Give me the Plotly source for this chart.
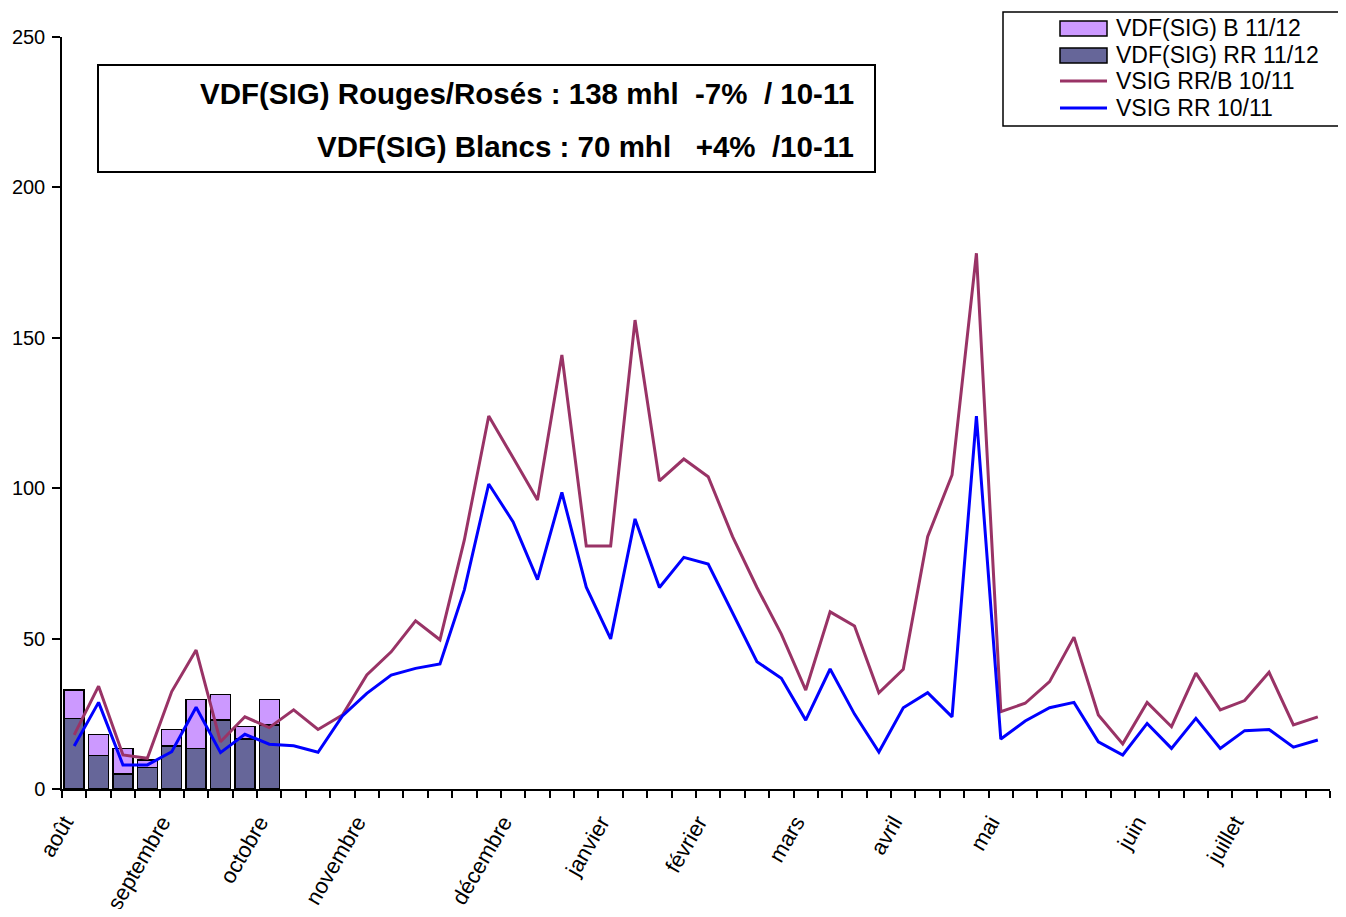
import plotly.graph_objects as go

# ── Data ──────────────────────────────────────────────────────────────────────
# 52 weekly categories (août -> juillet), only month starts are labelled
semaines = list(range(52))
mois_pos = [0, 4, 8, 12, 18, 22, 26, 30, 34, 38, 44, 48]
mois_lbl = ["août", "septembre", "octobre", "novembre", "décembre", "janvier",
            "février", "mars", "avril", "mai", "juin", "juillet"]

# campagne 11/12 (bars, first 9 weeks)
rr_1112 = [23.5, 11.2, 5.0, 7.1, 14.3, 13.4, 22.9, 16.6, 21.3]
b_1112 = [9.4, 7.0, 8.4, 2.5, 5.5, 16.4, 8.6, 4.1, 8.5]

# campagne 10/11 (lines)
rrb_1011 = [18.0, 34.2, 11.3, 10.2, 32.4, 46.2, 15.7, 24.0, 20.4, 26.3,
            19.8, 24.6, 37.9, 45.6, 55.9, 49.6, 82.8, 124.0, 110.1, 96.1,
            144.3, 80.8, 80.8, 155.9, 102.4, 109.7, 103.8, 83.9, 67.0, 51.5,
            32.9, 58.9, 54.2, 32.0, 39.8, 83.9, 104.4, 178.1, 25.7, 28.5,
            35.7, 50.5, 24.6, 15.0, 28.8, 20.7, 38.5, 26.3, 29.4, 38.8,
            21.3, 24.0]
rr_1011 = [14.3, 28.8, 8.0, 8.0, 12.4, 27.2, 12.1, 18.2, 14.9, 14.4,
           12.2, 24.3, 31.8, 37.9, 40.1, 41.6, 66.2, 101.4, 88.8, 69.6,
           98.6, 67.1, 49.9, 89.8, 67.0, 77.0, 74.8, 58.5, 42.3, 36.8,
           22.9, 39.9, 24.9, 12.3, 27.0, 32.0, 24.0, 124.0, 16.6, 22.6,
           27.0, 28.8, 15.7, 11.3, 21.8, 13.5, 23.5, 13.5, 19.4, 19.8,
           13.9, 16.3]

titre_1 = "VDF(SIG) Rouges/Rosés : 138 mhl\u00a0\u00a0-7%\u00a0\u00a0/ 10-11"
titre_2 = "VDF(SIG) Blancs : 70 mhl\u00a0\u00a0\u00a0+4%\u00a0\u00a0/10-11"

noms = ["VDF(SIG) B 11/12", "VDF(SIG) RR 11/12", "VSIG RR/B 10/11", "VSIG RR 10/11"]

C_B = "#CC99FF"
C_RR = "#666699"
C_RRB_L = "#993366"
C_RR_L = "#0000FF"
FONT = "Liberation Sans, Arial, sans-serif"

# the page body adds an 8px margin, so the figure is shifted by OFF
OFF = 8
W, H = 1346 - 2 * OFF, 917 - 2 * OFF
L, T = 62 - OFF, 37 - OFF
R = W - (1330 - OFF)
B = H - (789 - OFF)


def px_x(px):
    return (px - OFF - L) / (W - L - R)


def px_y(py):
    return (H - B - (py - OFF)) / (H - B - T)


fig = go.Figure()
fig.add_trace(go.Bar(x=semaines[:len(rr_1112)], y=rr_1112, name=noms[1],
                     marker=dict(color=C_RR, line=dict(color="black", width=1.5)),
                     width=0.82))
fig.add_trace(go.Bar(x=semaines[:len(b_1112)], y=b_1112, name=noms[0],
                     marker=dict(color=C_B, line=dict(color="black", width=1.5)),
                     width=0.82))
fig.add_trace(go.Scatter(x=semaines, y=rrb_1011, mode="lines", name=noms[2],
                         line=dict(color=C_RRB_L, width=3)))
fig.add_trace(go.Scatter(x=semaines, y=rr_1011, mode="lines", name=noms[3],
                         line=dict(color=C_RR_L, width=3)))

shapes = [
    # title box
    dict(type="rect", xref="paper", yref="paper",
         x0=px_x(98), x1=px_x(875), y0=px_y(172), y1=px_y(65),
         line=dict(color="black", width=2), fillcolor="white", layer="above"),
    # legend box
    dict(type="rect", xref="paper", yref="paper",
         x0=px_x(1003), x1=px_x(1360), y0=px_y(126), y1=px_y(12),
         line=dict(color="black", width=1.5), fillcolor="white", layer="above"),
    dict(type="rect", xref="paper", yref="paper",
         x0=px_x(1060), x1=px_x(1107), y0=px_y(36), y1=px_y(21),
         line=dict(color="black", width=1.5), fillcolor=C_B, layer="above"),
    dict(type="rect", xref="paper", yref="paper",
         x0=px_x(1060), x1=px_x(1107), y0=px_y(63), y1=px_y(48),
         line=dict(color="black", width=1.5), fillcolor=C_RR, layer="above"),
    dict(type="line", xref="paper", yref="paper",
         x0=px_x(1060), x1=px_x(1107), y0=px_y(81), y1=px_y(81),
         line=dict(color=C_RRB_L, width=3), layer="above"),
    dict(type="line", xref="paper", yref="paper",
         x0=px_x(1060), x1=px_x(1107), y0=px_y(108), y1=px_y(108),
         line=dict(color=C_RR_L, width=3), layer="above"),
]

annotations = [
    dict(text=f"<b>{titre_1}</b>", xref="paper", yref="paper",
         x=px_x(856), y=px_y(93), xanchor="right", yanchor="middle",
         showarrow=False, font=dict(size=29.5, color="black", family=FONT)),
    dict(text=f"<b>{titre_2}</b>", xref="paper", yref="paper",
         x=px_x(856), y=px_y(146), xanchor="right", yanchor="middle",
         showarrow=False, font=dict(size=29.5, color="black", family=FONT)),
]
for nom, yy in zip(noms, [28, 55, 81, 108]):
    annotations.append(dict(text=nom, xref="paper", yref="paper",
                            x=px_x(1114), y=px_y(yy), xanchor="left", yanchor="middle",
                            showarrow=False, font=dict(size=23, color="black", family=FONT)))

fig.update_layout(
    barmode="stack",
    width=W, height=H,
    margin=dict(l=L, r=R, t=T, b=B, autoexpand=False),
    paper_bgcolor="white",
    plot_bgcolor="white",
    showlegend=False,
    font=dict(family=FONT, size=20, color="black"),
    shapes=shapes,
    annotations=annotations,
    xaxis=dict(
        range=[-0.5, 51.5],
        # labels sit slightly left of the week centre, as in the original
        tickmode="array", tickvals=[p - 0.4 for p in mois_pos], ticktext=mois_lbl,
        tickangle=-60, ticks="", showgrid=False, zeroline=False,
        showline=True, linecolor="black", linewidth=1.5,
        tickfont=dict(size=22), ticklabelstandoff=10,
        minor=dict(tickmode="linear", tick0=-0.5, dtick=1, ticks="outside",
                   ticklen=7, tickcolor="black", tickwidth=1.5, showgrid=False),
    ),
    yaxis=dict(
        range=[0, 250], tickvals=[0, 50, 100, 150, 200, 250],
        ticks="outside", ticklen=8, tickcolor="black", tickwidth=1.5,
        showgrid=False, zeroline=False,
        showline=True, linecolor="black", linewidth=1.5,
        tickfont=dict(size=20), ticklabelstandoff=3,
    ),
)

fig.write_html("out.html")
